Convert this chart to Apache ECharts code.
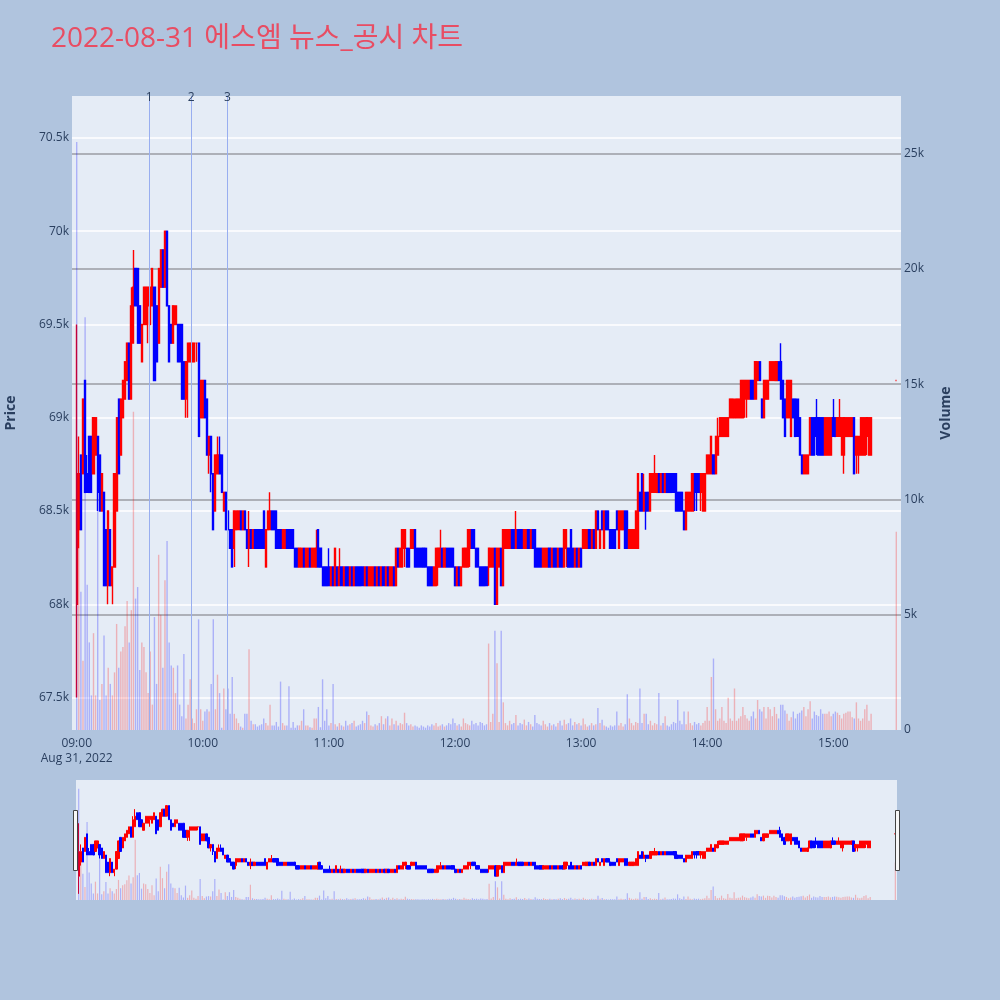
<!DOCTYPE html>
<html>
<head>
<meta charset="utf-8">
<script src="https://cdn.jsdelivr.net/npm/echarts@6/dist/echarts.min.js"></script>
<style>
html,body{margin:0;padding:0;background:#b0c4de;}
#chart{width:1000px;height:1000px;}
</style>
</head>
<body>
<div id="chart"></div>
<script>
// ---------------- data (prices in units of 100 won: [open, close, low, high]) ----------------
const TITLE = '2022-08-31 에스엠 뉴스_공시 차트';
const SESSION_DATE = [2022, 7, 31];          // Aug 31, 2022
const SESSION_DATE_LABEL = 'Aug 31, 2022';
const FIRST_MINUTE = '09:00:00';
const PRICE_UNIT = 100;

const ohlc0900 = [
[680,687,675,695],[684,687,683,689],[688,684,684,688],[687,691,687,691],[692,686,686,692],[687,686,686,688],[689,686,686,689],[689,686,686,689],[687,690,687,690],[688,690,688,690],
[689,686,685,689],[688,685,685,688],[685,687,685,687],[686,681,681,686],[684,681,681,684],[681,685,680,685],[684,681,681,684],[681,682,680,682],[682,687,682,687],[685,690,685,690],
[691,687,687,691],[688,691,688,691],[690,692,690,692],[691,693,691,693],[692,694,692,694],[694,691,691,694],[691,696,691,697],[694,697,694,699],[698,696,696,698],[698,694,694,698],
[696,694,694,696],[693,695,693,695],[695,697,695,697],[695,697,695,697],[696,697,694,697],[695,697,695,697],[696,698,696,698],[697,692,692,697],[696,693,693,696],[694,698,694,698],
[697,699,697,699],[699,697,697,699],[697,700,697,700],[700,696,696,700],[696,693,693,696],[695,694,694,695],[694,696,694,696],[695,696,695,696],[695,693,693,695],[695,693,693,695],
[695,691,691,695],[693,691,691,693],[691,693,690,693],[693,694,690,694],[693,694,693,694],[693,694,693,694],[693,694,693,694],[694,694,693,694],[694,689,689,694],[690,692,690,692]
];
const ohlc1000 = [
[690,692,690,692],[692,690,690,692],[691,688,688,691],[688,689,687,689],[689,687,686,689],[687,684,684,687],[685,688,685,688],[687,688,687,689],[688,687,687,689],[688,686,686,688],
[685,686,685,686],[686,684,684,686],[685,684,684,685],[684,683,683,684],[684,682,682,684],[683,685,682,685],[684,685,684,685],[684,685,684,685],[685,684,684,685],[684,685,684,685],
[685,684,684,685],[684,683,683,684],[683,684,682,685],[684,683,683,684],[683,684,683,684],[684,683,683,684],[684,683,683,684],[684,683,683,684],[684,683,683,684],[685,683,683,685],
[682,684,682,684],[684,685,684,685],[684,685,684,686],[685,684,684,685],[685,684,684,685],[685,683,683,685],[684,683,683,684],[684,683,683,684],[683,684,683,684],[683,684,683,684],
[684,683,683,684],[684,683,683,684],[684,683,683,684],[684,683,683,684],[683,682,682,683],[683,682,682,683],[682,683,682,683],[682,683,682,683],[683,682,682,683],[682,683,682,683],
[682,683,682,683],[683,682,682,683],[682,683,682,683],[682,683,682,683],[682,683,682,684],[684,682,682,684],[683,682,682,683],[682,681,681,682],[682,681,681,682],[682,681,681,682]
];
const ohlc1100 = [
[682,681,681,683],[681,682,681,682],[682,681,681,682],[681,683,681,683],[682,681,681,682],[681,682,681,683],[682,681,681,682],[681,682,681,682],[682,681,681,682],[682,681,681,682],
[681,682,681,682],[682,681,681,682],[681,682,681,682],[682,681,681,682],[682,681,681,682],[682,681,681,682],[682,681,681,682],[681,682,681,682],[682,681,681,682],[681,682,681,682],
[681,682,681,682],[681,682,681,682],[682,681,681,682],[681,682,681,682],[682,681,681,682],[681,682,681,682],[682,681,681,682],[681,682,681,682],[682,681,681,682],[681,682,681,682],
[681,682,681,682],[682,681,681,682],[681,683,681,683],[683,682,682,683],[682,683,682,683],[682,684,682,684],[683,684,682,684],[683,682,682,683],[683,682,682,683],[683,684,683,684],
[683,684,683,684],[684,682,682,684],[683,682,682,683],[683,682,682,683],[683,682,682,683],[683,682,682,683],[683,682,682,683],[682,681,681,682],[682,681,681,682],[682,681,681,682],
[681,682,681,682],[681,683,681,683],[682,683,681,683],[682,683,682,684],[683,682,682,683],[682,683,682,683],[683,682,682,683],[683,682,682,683],[683,682,682,683],[683,682,682,683]
];
const ohlc1200 = [
[682,681,681,682],[681,682,681,682],[682,681,681,682],[681,682,681,682],[682,683,682,683],[682,683,682,683],[682,684,682,684],[683,684,682,684],[684,683,683,684],[684,683,683,684],
[683,682,682,683],[683,682,682,683],[682,681,681,682],[682,681,681,682],[682,681,681,682],[682,681,681,682],[682,683,681,683],[682,683,682,683],[682,683,682,683],[683,680,680,683],
[680,683,680,683],[682,683,682,683],[683,681,681,683],[681,684,681,684],[683,684,683,684],[683,684,683,684],[683,684,683,684],[684,683,683,684],[684,683,683,684],[683,684,683,685],
[684,683,683,684],[684,683,683,684],[684,683,683,684],[683,684,683,684],[683,684,683,684],[684,683,683,684],[683,684,683,684],[684,683,683,684],[684,682,682,684],[683,682,682,683],
[683,682,682,683],[683,682,682,683],[682,683,682,683],[682,683,682,683],[682,683,682,683],[683,682,682,683],[682,683,682,683],[683,682,682,683],[683,682,682,683],[682,683,682,683],
[683,682,682,683],[683,682,682,683],[682,684,682,684],[683,684,682,684],[683,682,682,683],[684,682,682,684],[683,682,682,683],[682,683,682,683],[683,682,682,683],[682,683,682,683]
];
const ohlc1300 = [
[683,682,682,683],[683,684,683,684],[683,684,683,684],[683,684,683,684],[684,683,683,684],[683,684,683,684],[684,683,683,684],[683,685,683,685],[685,684,684,685],[683,684,683,684],
[685,684,684,685],[683,685,683,685],[685,684,684,685],[685,684,684,685],[684,683,683,684],[684,683,683,684],[684,683,683,684],[685,684,684,685],[683,685,683,685],[684,685,684,685],
[684,685,684,685],[685,683,683,685],[685,683,683,685],[683,684,683,684],[683,684,683,684],[683,684,683,684],[683,685,683,685],[683,687,683,687],[686,685,685,686],[687,685,685,687],
[685,686,685,687],[686,685,684,686],[686,685,685,686],[685,687,685,687],[686,687,686,687],[686,687,686,688],[686,687,686,687],[687,686,686,687],[686,687,686,687],[687,686,686,687],
[686,687,686,687],[687,686,686,687],[687,686,686,687],[687,686,686,687],[687,686,686,687],[687,685,685,687],[686,685,685,686],[686,685,685,686],[686,685,685,686],[685,684,684,685],
[684,686,684,686],[685,686,685,686],[685,686,685,686],[685,687,685,687],[687,686,685,687],[687,686,685,687],[687,686,686,687],[686,687,685,687],[685,687,685,687],[685,687,685,687]
];
const ohlc1400 = [
[687,688,687,688],[687,688,687,688],[687,689,687,689],[688,687,687,688],[687,689,687,689],[688,689,688,690],[689,690,689,690],[689,690,689,690],[689,690,689,690],[689,690,689,690],
[689,690,689,690],[690,691,690,691],[690,691,690,691],[690,691,690,691],[690,691,690,691],[690,691,690,691],[690,692,690,692],[690,692,690,692],[691,692,690,692],[691,692,690,692],
[691,692,691,692],[692,691,691,692],[692,691,691,692],[691,693,691,693],[692,693,692,693],[693,692,692,693],[691,690,690,691],[690,692,690,692],[691,692,691,692],[691,692,691,692],
[692,693,692,693],[692,693,692,693],[692,693,692,693],[692,693,692,693],[693,692,692,693],[693,691,691,694],[692,690,690,692],[691,689,689,691],[690,692,690,692],[690,692,690,692],
[689,692,689,692],[691,690,690,691],[691,689,689,691],[691,689,689,691],[690,688,688,690],[688,687,687,688],[687,688,687,688],[687,688,687,688],[687,688,687,688],[688,690,688,690],
[690,688,688,690],[690,688,688,690],[690,689,688,691],[690,688,688,690],[690,688,688,690],[690,688,688,690],[688,690,688,690],[688,690,688,690],[688,690,688,690],[688,690,688,690]
];
const ohlc1500 = [
[690,689,689,691],[690,689,689,690],[689,690,689,690],[689,690,689,691],[688,690,688,690],[688,690,687,690],[689,690,689,690],[689,690,689,690],[689,690,689,690],[689,690,689,690],
[690,687,687,690],[688,689,687,689],[688,689,687,689],[688,690,688,690],[688,690,688,690],[688,690,688,690],[689,690,688,690],[688,690,688,690],[688,690,688,690]
];

// volume per minute (shares)
const vol0900 = [25500,9500,6000,3000,17900,6300,3800,1500,4200,1500, 9500,1300,2000,4100,1500,2700,2000,1500,2500,4600,
 2700,3400,3600,4500,5600,3800,5200,13800,5700,6200, 2600,3800,3600,2500,1600,3400,1100,4900,2000,7600,
 5000,2700,6500,8200,3800,2800,2700,1600,2800,1100, 600,3300,500,1100,2200,500,300,900,4800,900];
const vol1000 = [400,800,900,800,2000,4800,900,2400,1600,100, 1800,900,1800,700,2300,700,500,300,150,100,
 700,700,3500,400,250,250,150,200,250,500, 300,200,1100,200,200,350,150,2100,300,200,
 200,1900,100,350,100,200,200,400,900,200, 200,120,100,500,500,1000,120,2200,400,900];
const vol1100 = [200,300,2000,250,150,300,200,150,400,200, 250,300,400,150,200,250,400,300,800,650,
 200,150,250,200,300,600,250,500,600,200, 500,250,400,200,300,250,750,300,200,250,
 150,200,150,100,200,150,100,200,150,250, 200,300,150,200,250,150,200,300,250,500];
const vol1200 = [300,200,250,150,500,300,250,200,400,250, 300,200,350,300,200,250,3750,350,700,4300,
 2900,350,4300,1200,300,200,400,250,300,650, 200,300,250,450,200,350,250,150,650,300,
 250,200,400,250,150,300,200,250,150,300, 400,200,450,250,300,500,200,350,250,300];
const vol1300 = [200,500,250,150,200,300,200,250,950,300, 450,200,150,100,200,150,200,800,200,300,
 150,250,1550,500,300,200,350,300,1800,300, 700,700,250,400,200,300,250,1600,200,300,
 600,200,150,250,350,300,1300,400,250,800, 250,800,300,200,350,250,300,200,300,400];
const vol1400 = [1000,400,2300,3100,900,400,500,1000,400,300, 1400,500,400,1800,400,500,600,1000,650,500,
 400,600,800,500,1300,900,800,1000,500,1000, 900,600,1000,700,500,1100,1100,850,700,400,
 550,800,500,700,750,850,1000,600,900,1250, 500,800,650,600,900,700,700,700,800,600];
const vol1500 = [700,800,750,650,500,700,750,800,800,550, 500,1200,500,400,500,900,1100,400,700];

// closing single-price auction
const closingTime = '15:30:00';
const closingOhlc = [692,692,692,692];
const closingVolume = 8600;

// opening print drawn in the "down" colour in the reference
const volumeColorOverrides = {0: 'down'};

// news / disclosure markers
const newsLabels = ['1', '2', '3'];
const newsTimes = ['09:34:30', '09:54:30', '10:11:40'];

// axis ranges
const priceRange = [67326, 70725];
const volumeRange = [0, 27500];
const volumeTickStep = 5000;
const mainTimeRange = ['08:58:06', '15:31:54'];
const sliderTimeRange = ['08:59:00', '15:30:30'];

// ---------------- build ----------------
function ts(hms) {
  const p = hms.split(':').map(Number);
  return new Date(SESSION_DATE[0], SESSION_DATE[1], SESSION_DATE[2], p[0], p[1], p[2] || 0).getTime();
}
const rows = [].concat(ohlc0900, ohlc1000, ohlc1100, ohlc1200, ohlc1300, ohlc1400, ohlc1500);
const vols = [].concat(vol0900, vol1000, vol1100, vol1200, vol1300, vol1400, vol1500);
const t0 = ts(FIRST_MINUTE);
const times = rows.map((r, i) => t0 + i * 60000);
rows.push(closingOhlc); vols.push(closingVolume); times.push(ts(closingTime));

const UP = '#ff0000', DOWN = '#0000ff';
const UP_V = 'rgba(255,0,0,0.25)', DOWN_V = 'rgba(0,0,255,0.25)';
function isUp(i) {
  if (volumeColorOverrides[i]) return volumeColorOverrides[i] === 'up';
  const r = rows[i];
  if (r[1] !== r[0]) return r[1] > r[0];
  return i > 0 ? r[1] >= rows[i - 1][1] : true;
}
const candleData = rows.map((r, i) => [times[i], r[0] * PRICE_UNIT, r[1] * PRICE_UNIT, r[2] * PRICE_UNIT, r[3] * PRICE_UNIT]);
const volumeData = vols.map((v, i) => ({value: [times[i], v], itemStyle: {color: isUp(i) ? UP_V : DOWN_V}}));

const FONT = '"Open Sans", "Noto Sans CJK KR", sans-serif';
const TXT = '#2a3f5f';
function pad(n) { return (n < 10 ? '0' : '') + n; }

const chart = echarts.init(document.getElementById('chart'), null, {renderer: 'canvas'});
chart.setOption({
  animation: false,
  backgroundColor: '#b0c4de',
  title: {
    text: TITLE, left: 51, top: 25, padding: 0,
    textStyle: {color: '#e84d63', fontSize: 28, fontWeight: 'normal', fontFamily: FONT}
  },
  grid: [
    {left: 72, top: 96, width: 829, height: 634, show: true, backgroundColor: '#e5ecf6', borderWidth: 0, outerBoundsMode: 'none', containLabel: false},
    {left: 76, top: 780, width: 821, height: 120, show: true, backgroundColor: '#e5ecf6', borderWidth: 0, outerBoundsMode: 'none', containLabel: false}
  ],
  xAxis: [
    {
      type: 'time', gridIndex: 0, min: ts(mainTimeRange[0]), max: ts(mainTimeRange[1]),
      minInterval: 3600000, maxInterval: 3600000,
      axisLine: {show: false}, axisTick: {show: false}, splitLine: {show: false},
      axisLabel: {
        color: TXT, fontSize: 12, fontFamily: FONT, margin: 6, lineHeight: 15,
        showMinLabel: false, showMaxLabel: false, hideOverlap: false,
        formatter: function (v) {
          const d = new Date(v);
          const s = pad(d.getHours()) + ':' + pad(d.getMinutes());
          return (v === t0) ? s + '\n' + SESSION_DATE_LABEL : s;
        }
      }
    },
    {type: 'time', gridIndex: 1, min: ts(sliderTimeRange[0]), max: ts(sliderTimeRange[1]), show: false}
  ],
  yAxis: [
    {
      type: 'value', gridIndex: 0, min: priceRange[0], max: priceRange[1], position: 'left',
      name: 'Price', nameLocation: 'middle', nameGap: 54, nameRotate: 90,
      nameTextStyle: {color: TXT, fontSize: 14, fontWeight: 'bold', fontFamily: FONT},
      axisLine: {show: false}, axisTick: {show: false},
      splitLine: {show: true, showMinLine: false, showMaxLine: false, lineStyle: {color: '#ffffff', width: 1.5}},
      axisLabel: {color: TXT, fontSize: 12, fontFamily: FONT, margin: 3, showMinLabel: false, showMaxLabel: false,
        formatter: v => (v / 1000) + 'k'}
    },
    {
      type: 'value', gridIndex: 0, min: volumeRange[0], max: volumeRange[1], interval: volumeTickStep, position: 'right',
      name: 'Volume', nameLocation: 'middle', nameGap: 38, nameRotate: 90,
      nameTextStyle: {color: TXT, fontSize: 14, fontWeight: 'bold', fontFamily: FONT},
      axisLine: {show: false}, axisTick: {show: false},
      splitLine: {show: true, showMinLine: false, showMaxLine: false, lineStyle: {color: '#9a9ca3', width: 1.5}},
      axisLabel: {color: TXT, fontSize: 12, fontFamily: FONT, margin: 3, showMaxLabel: false,
        formatter: v => v === 0 ? '0' : (v / 1000) + 'k'}
    },
    {type: 'value', gridIndex: 1, min: priceRange[0], max: priceRange[1], show: false},
    {type: 'value', gridIndex: 1, min: volumeRange[0], max: volumeRange[1], show: false}
  ],
  series: [
    {
      type: 'candlestick', xAxisIndex: 0, yAxisIndex: 0, data: candleData, barWidth: 1.6, z: 2,
      itemStyle: {color: UP, color0: DOWN, borderColor: UP, borderColor0: DOWN, borderWidth: 1.4},
      markLine: {
        silent: true, symbol: ['none', 'none'], animation: false, z: 10,
        lineStyle: {color: '#98aef0', width: 1, type: 'solid'},
        label: {show: true, position: 'end', distance: -8, color: TXT, fontSize: 12, fontFamily: FONT, formatter: p => p.name},
        data: newsTimes.map((t, i) => ({name: newsLabels[i], xAxis: ts(t)}))
      }
    },
    {type: 'bar', xAxisIndex: 0, yAxisIndex: 1, data: volumeData, barWidth: 1.4, z: 3},
    {
      type: 'candlestick', xAxisIndex: 1, yAxisIndex: 2, data: candleData, barWidth: 1.8, z: 2,
      itemStyle: {color: UP, color0: DOWN, borderColor: UP, borderColor0: DOWN, borderWidth: 1}
    },
    {type: 'bar', xAxisIndex: 1, yAxisIndex: 3, data: volumeData, barWidth: 1.2, z: 3}
  ],
  graphic: [
    {type: 'rect', left: 73, top: 810, shape: {width: 4, height: 60}, style: {fill: '#f8f8f8', stroke: '#444', lineWidth: 1}, z: 100},
    {type: 'rect', left: 895, top: 810, shape: {width: 4, height: 60}, style: {fill: '#f8f8f8', stroke: '#444', lineWidth: 1}, z: 100}
  ]
});
</script>
</body>
</html>
